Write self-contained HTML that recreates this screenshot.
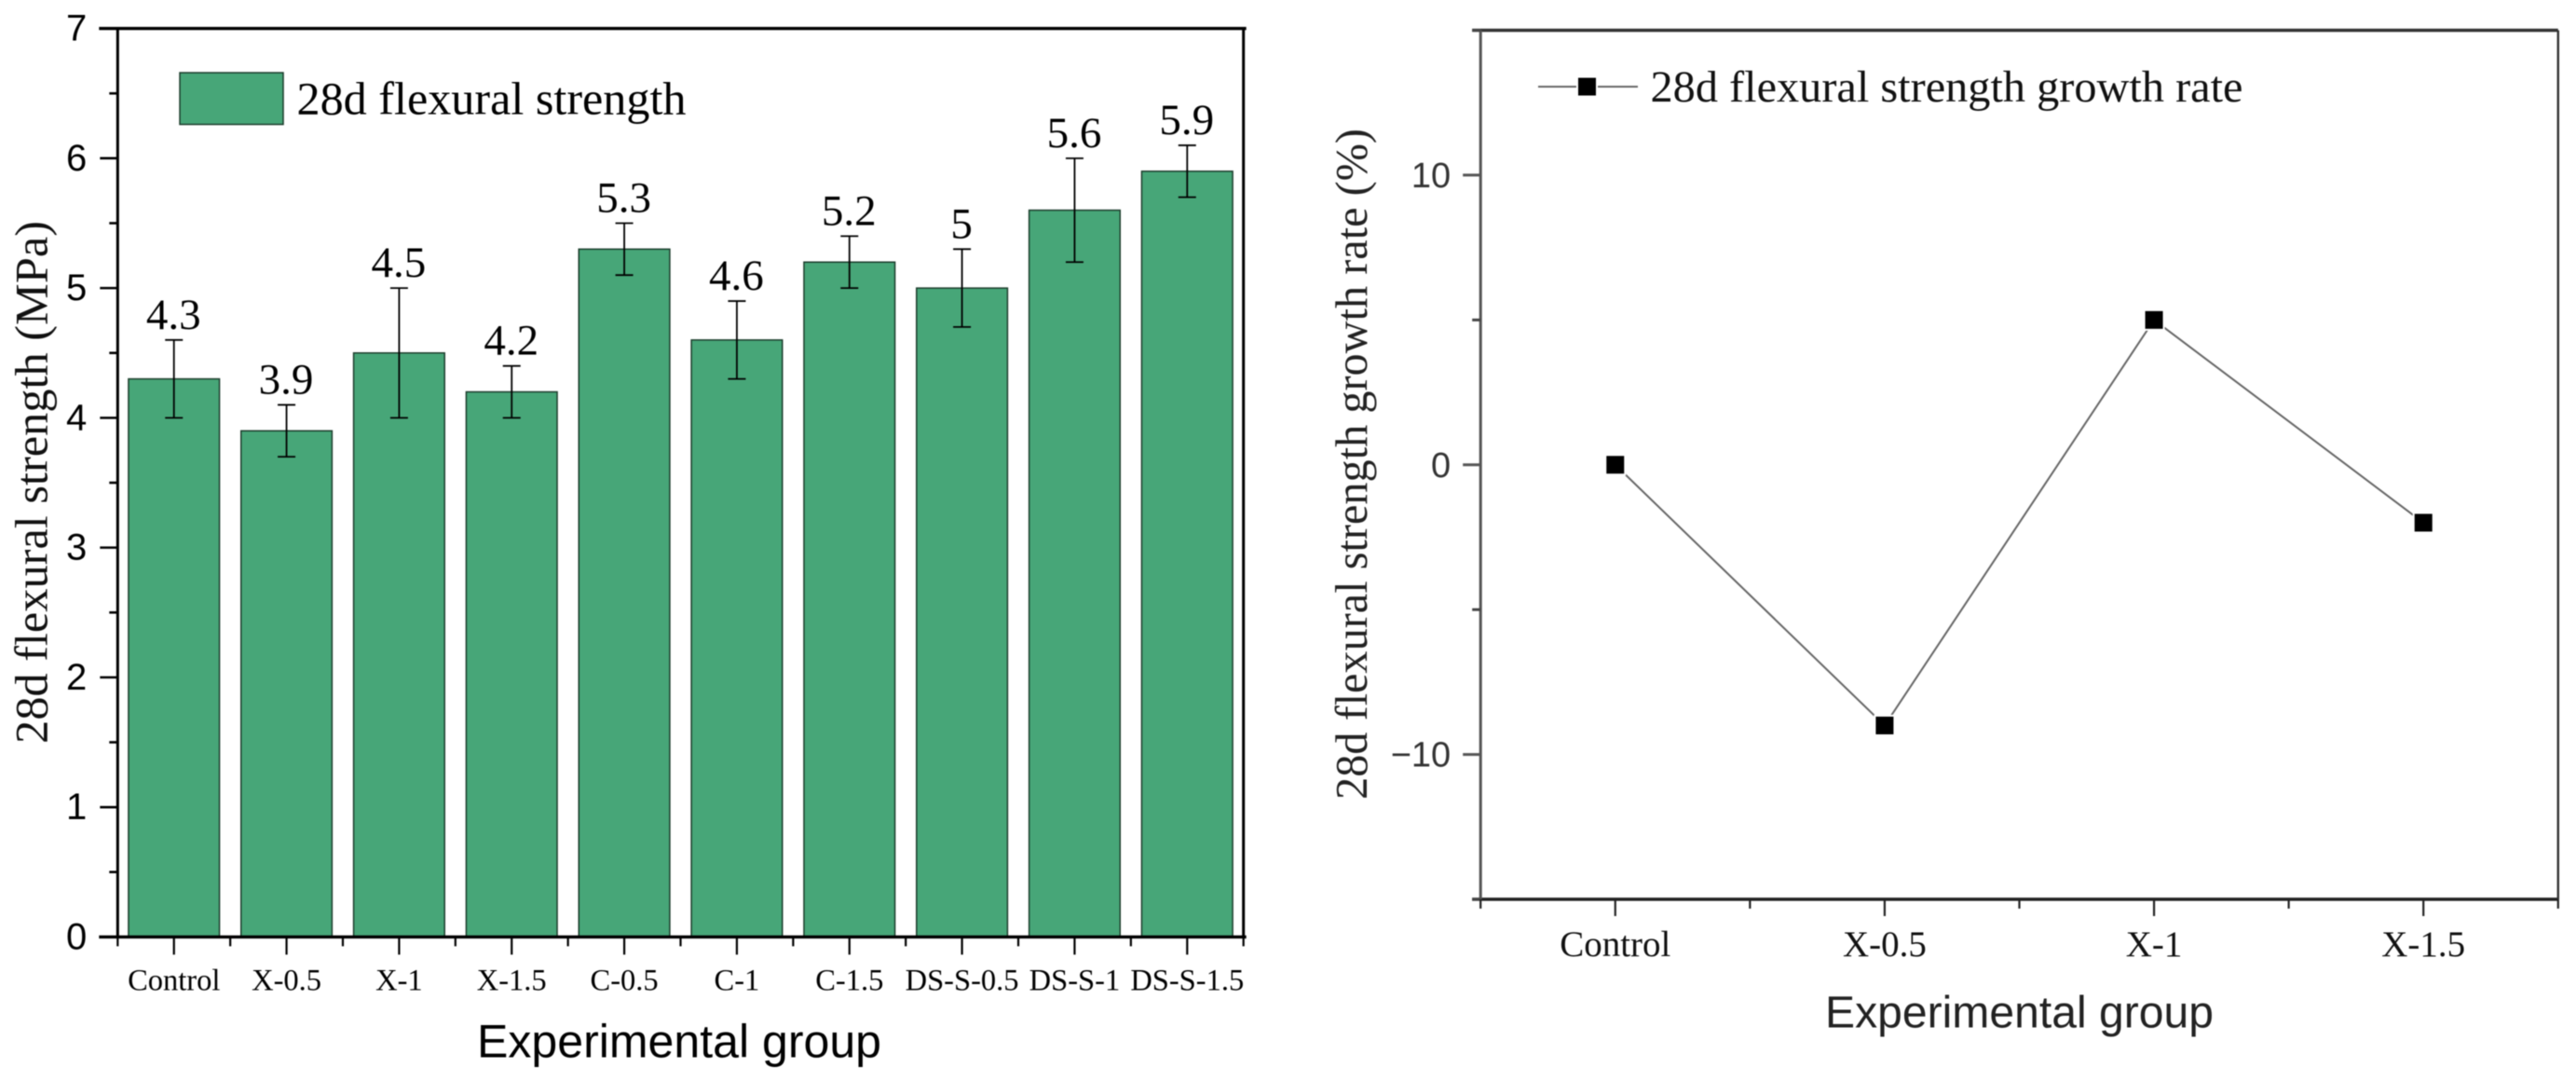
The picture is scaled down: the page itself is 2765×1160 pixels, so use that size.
<!DOCTYPE html>
<html lang="en">
<head>
<meta charset="utf-8">
<title>28d flexural strength charts</title>
<style>
  html, body { margin: 0; padding: 0; background: #fff; }
  body { width: 2765px; height: 1160px; overflow: hidden; }
  svg { display: block; filter: blur(0.5px); }
  .serif { font-family: "Liberation Serif", serif; }
  .sans { font-family: "Liberation Sans", sans-serif; }
</style>
</head>
<body>
<svg id="figure" xmlns="http://www.w3.org/2000/svg" width="2765" height="1160" viewBox="0 0 2765 1160">
  <rect x="0" y="0" width="2765" height="1160" fill="#ffffff"/>

  <g id="bar-chart">
    <g id="bar-marks"></g>
    <g id="bar-errors"></g>
    <g id="bar-labels"></g>
    <g id="bar-axes"></g>
    <rect x="193" y="78" width="111" height="55.5" fill="#47a678" stroke="#1c3d2c" stroke-width="1.5"/>
    <text class="serif" x="318.5" y="122.5" font-size="50" textLength="418" lengthAdjust="spacingAndGlyphs" fill="#000">28d flexural strength</text>
    <text class="sans" x="512" y="1134.5" font-size="50" textLength="434" lengthAdjust="spacingAndGlyphs" fill="#000">Experimental group</text>
    <text class="serif" transform="translate(50.5 798) rotate(-90)" x="0" y="0" font-size="50" textLength="561" lengthAdjust="spacingAndGlyphs" fill="#111">28d flexural strength (MPa)</text>
  </g>

  <g id="line-chart">
    <g id="line-axes"></g>
    <g id="line-series"></g>
    <line x1="1651" y1="93" x2="1758" y2="93" stroke="#666" stroke-width="2"/>
    <rect x="1693" y="82.5" width="21" height="21" fill="#000" stroke="#fff" stroke-width="2"/>
    <text class="serif" x="1771.5" y="109" font-size="48" textLength="636" lengthAdjust="spacingAndGlyphs" fill="#111">28d flexural strength growth rate</text>
    <text class="sans" x="1959" y="1102.5" font-size="48" textLength="417" lengthAdjust="spacingAndGlyphs" fill="#222">Experimental group</text>
    <text class="serif" transform="translate(1467 858) rotate(-90)" x="0" y="0" font-size="49" textLength="720" lengthAdjust="spacingAndGlyphs" fill="#222">28d flexural strength growth rate (%)</text>
  </g>
</svg>

<script>
const barCategories = ['Control', 'X-0.5', 'X-1', 'X-1.5', 'C-0.5', 'C-1', 'C-1.5', 'DS-S-0.5', 'DS-S-1', 'DS-S-1.5'];
const barValues = [4.3, 3.9, 4.5, 4.2, 5.3, 4.6, 5.2, 5, 5.6, 5.9];
const barErrors = [0.3, 0.2, 0.5, 0.2, 0.2, 0.3, 0.2, 0.3, 0.4, 0.2];
const barYMajorTicks = [0, 1, 2, 3, 4, 5, 6, 7];
const barYMinorTicks = [0.5, 1.5, 2.5, 3.5, 4.5, 5.5, 6.5];

const lineCategories = ['Control', 'X-0.5', 'X-1', 'X-1.5'];
const lineValues = [0, -9, 5, -2];
const lineYMajorTicks = [-10, 0, 10];
const lineYMinorTicks = [-15, -5, 5, 15];

const SVG_NS = 'http://www.w3.org/2000/svg';

function make(parent, tag, attrs, text) {
  const node = document.createElementNS(SVG_NS, tag);
  for (const key in attrs) node.setAttribute(key, attrs[key]);
  if (text !== undefined) node.textContent = text;
  parent.appendChild(node);
  return node;
}

/* ---------- bar chart geometry ---------- */
const barPlot = { left: 126.3, right: 1334.7, top: 30.6, bottom: 1005.4, yMin: 0, yMax: 7 };
const barBand = (barPlot.right - barPlot.left) / barCategories.length;
const barFill = 0.808;
function barY(v) {
  return barPlot.bottom - (v - barPlot.yMin) / (barPlot.yMax - barPlot.yMin) * (barPlot.bottom - barPlot.top);
}
function barX(i) {
  return barPlot.left + barBand * (i + 0.5);
}

const barMarks = document.getElementById('bar-marks');
const barErrorsGroup = document.getElementById('bar-errors');
const barLabels = document.getElementById('bar-labels');
const barAxes = document.getElementById('bar-axes');

barValues.forEach(function (v, i) {
  const width = barBand * barFill;
  const bar = make(barMarks, 'rect', {
    x: barX(i) - width / 2, y: barY(v), width: width, height: barY(0) - barY(v),
    fill: '#47a678', stroke: '#1c3d2c', 'stroke-width': 1.5
  });
  
  

  const high = barY(v + barErrors[i]);
  const low = barY(v - barErrors[i]);
  const cx = barX(i);
  const stem = make(barErrorsGroup, 'line', { x1: cx, x2: cx, y1: high, y2: low, stroke: '#000', 'stroke-width': 1.8 });
  
  
  const capTop = make(barErrorsGroup, 'line', { x1: cx - 9.5, x2: cx + 9.5, y1: high, y2: high, stroke: '#000', 'stroke-width': 1.8 });
  
  
  const capBottom = make(barErrorsGroup, 'line', { x1: cx - 9.5, x2: cx + 9.5, y1: low, y2: low, stroke: '#000', 'stroke-width': 1.8 });
  
  

  const label = make(barLabels, 'text', {
    x: cx - 0.5, y: high - 12, 'text-anchor': 'middle', 'font-size': 47, fill: '#000', class: 'serif'
  }, String(v));
  
  
});

/* bar axes */
const barSpines = [
  [barPlot.left - 20, barPlot.top, barPlot.right + 3, barPlot.top, 3.4],
  [barPlot.left - 20, barPlot.bottom, barPlot.right + 3, barPlot.bottom, 3.4],
  [barPlot.left, barPlot.top, barPlot.left, barPlot.bottom, 3],
  [barPlot.right, barPlot.top, barPlot.right, barPlot.bottom, 3]
];
barSpines.forEach(function (s) {
  const spine = make(barAxes, 'line', { x1: s[0], y1: s[1], x2: s[2], y2: s[3], stroke: '#000', 'stroke-width': s[4] });
  
  
});
barYMajorTicks.forEach(function (t) {
  const y = barY(t);
  const tick = make(barAxes, 'line', { x1: barPlot.left - 19, x2: barPlot.left, y1: y, y2: y, stroke: '#000', 'stroke-width': 2.6 });
  
  
  const label = make(barAxes, 'text', {
    x: barPlot.left - 33, y: y + 13, 'text-anchor': 'end', 'font-size': 40, fill: '#000', class: 'sans'
  }, String(t));
  
  
});
barYMinorTicks.forEach(function (t) {
  const y = barY(t);
  const tick = make(barAxes, 'line', { x1: barPlot.left - 9, x2: barPlot.left, y1: y, y2: y, stroke: '#000', 'stroke-width': 2.6 });
  
  
});
barCategories.forEach(function (name, i) {
  const x = barX(i);
  const tick = make(barAxes, 'line', { x1: x, x2: x, y1: barPlot.bottom, y2: barPlot.bottom + 19, stroke: '#000', 'stroke-width': 2.2 });
  
  
  const label = make(barAxes, 'text', {
    x: x, y: 1062.5, 'text-anchor': 'middle', 'font-size': 32.5, fill: '#000', class: 'serif'
  }, name);
  
  
});
for (let i = 0; i <= barCategories.length; i++) {
  const x = barPlot.left + barBand * i;
  const tick = make(barAxes, 'line', { x1: x, x2: x, y1: barPlot.bottom, y2: barPlot.bottom + 10, stroke: '#000', 'stroke-width': 2.2 });
  
  
}

/* ---------- line chart geometry ---------- */
const linePlot = { left: 1589.2, right: 2745.8, top: 32.5, bottom: 965, yMin: -15, yMax: 15 };
const lineBand = (linePlot.right - linePlot.left) / lineCategories.length;
function lineY(v) {
  return linePlot.bottom - (v - linePlot.yMin) / (linePlot.yMax - linePlot.yMin) * (linePlot.bottom - linePlot.top);
}
function lineX(i) {
  return linePlot.left + lineBand * (i + 0.5);
}

const lineAxes = document.getElementById('line-axes');
const lineSeries = document.getElementById('line-series');

const lineSpines = [
  [linePlot.left - 9, linePlot.top, linePlot.right, linePlot.top, 3.4, '#333'],
  [linePlot.left - 9, linePlot.bottom, linePlot.right, linePlot.bottom, 3.4, '#222'],
  [linePlot.left, linePlot.top, linePlot.left, linePlot.bottom, 3, '#555'],
  [linePlot.right, linePlot.top, linePlot.right, linePlot.bottom, 2.4, '#333']
];
lineSpines.forEach(function (s) {
  const spine = make(lineAxes, 'line', { x1: s[0], y1: s[1], x2: s[2], y2: s[3], stroke: s[5], 'stroke-width': s[4] });
  
  
});
lineYMajorTicks.forEach(function (t) {
  const y = lineY(t);
  const tick = make(lineAxes, 'line', { x1: linePlot.left - 19, x2: linePlot.left, y1: y, y2: y, stroke: '#555', 'stroke-width': 3 });
  
  
  const label = make(lineAxes, 'text', {
    x: linePlot.left - 32, y: y + 13, 'text-anchor': 'end', 'font-size': 38, fill: '#333', class: 'sans'
  }, String(t).replace('-', '\u2212'));
  
  
});
lineYMinorTicks.forEach(function (t) {
  const y = lineY(t);
  const tick = make(lineAxes, 'line', { x1: linePlot.left - 9, x2: linePlot.left, y1: y, y2: y, stroke: '#444', 'stroke-width': 3 });
  
  
});
lineCategories.forEach(function (name, i) {
  const x = lineX(i);
  const tick = make(lineAxes, 'line', { x1: x, x2: x, y1: linePlot.bottom, y2: linePlot.bottom + 18, stroke: '#222', 'stroke-width': 2.2 });
  
  
  const label = make(lineAxes, 'text', {
    x: x, y: 1026, 'text-anchor': 'middle', 'font-size': 39, fill: '#111', class: 'serif'
  }, name);
  
  
});
for (let i = 0; i <= lineCategories.length; i++) {
  const x = linePlot.left + lineBand * i;
  const tick = make(lineAxes, 'line', { x1: x, x2: x, y1: linePlot.bottom, y2: linePlot.bottom + 10, stroke: '#222', 'stroke-width': 2.2 });
  
  
}

const linePoints = lineValues.map(function (v, i) { return lineX(i) + ',' + lineY(v); }).join(' ');
const growthLine = make(lineSeries, 'polyline', { points: linePoints, fill: 'none', stroke: '#666', 'stroke-width': 2 });


lineValues.forEach(function (v, i) {
  const marker = make(lineSeries, 'rect', {
    x: lineX(i) - 10.5, y: lineY(v) - 10.5, width: 21, height: 21, fill: '#000', stroke: '#fff', 'stroke-width': 2
  });
  
  
});
</script>
</body>
</html>
